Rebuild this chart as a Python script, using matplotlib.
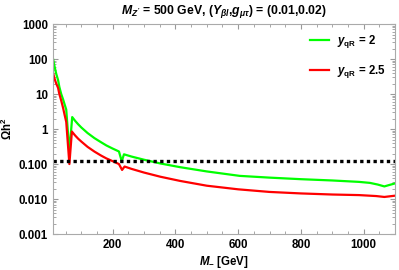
import matplotlib
matplotlib.use("Agg")
import matplotlib.pyplot as plt
from matplotlib.ticker import FixedLocator, NullFormatter, LogLocator

plt.rcParams['font.family'] = ['Liberation Sans', 'DejaVu Sans']
plt.rcParams['font.weight'] = 'bold'
plt.rcParams['mathtext.fontset'] = 'custom'
plt.rcParams['mathtext.it'] = 'Liberation Sans:bold:italic'
plt.rcParams['mathtext.rm'] = 'Liberation Sans:bold'
plt.rcParams['mathtext.bf'] = 'Liberation Sans:bold'

# Data
m_green = [10, 15, 20, 26, 30, 36, 42, 47, 52, 62, 71, 80, 90, 100, 120, 142, 163, 180, 200,
           220, 229, 236, 260, 300, 352, 415, 500, 605, 700, 800, 900, 985, 1020, 1045, 1066,
           1080, 1100]
omega_green = [100, 60, 38, 25, 16, 10, 7, 5, 3.6, 0.22, 2.2, 1.73, 1.37, 1.11, 0.77, 0.55,
               0.42, 0.34, 0.277, 0.229, 0.12, 0.19, 0.164, 0.133, 0.104, 0.0815, 0.0616,
               0.046, 0.041, 0.037, 0.034, 0.031, 0.029, 0.026, 0.023, 0.025, 0.028]
m_red = [10, 15, 20, 26, 30, 36, 42, 47, 52, 62, 70, 80, 90, 100, 120, 142, 163, 180, 200,
         220, 230, 238, 260, 300, 352, 415, 500, 600, 700, 800, 900, 985, 1040, 1066, 1100]
omega_red = [40, 27, 20, 15, 10, 6.5, 4, 2.5, 1.6, 0.1, 0.85, 0.66, 0.53, 0.44, 0.31, 0.227,
             0.175, 0.145, 0.121, 0.1, 0.068, 0.085, 0.0729, 0.0572, 0.0435, 0.033, 0.0241,
             0.019, 0.016, 0.0145, 0.0135, 0.013, 0.0122, 0.0115, 0.0125]
planck = 0.12
labels = [r"$y_{\mathrm{qR}}$ = 2", r"$y_{\mathrm{qR}}$ = 2.5"]
yticks = [1000, 100, 10, 1, 0.1, 0.01, 0.001]
ytick_labels = ["1000", "100", "10", "1", "0.100", "0.010", "0.001"]
xticks = [200, 400, 600, 800, 1000]

fig = plt.figure(figsize=(3.99, 2.70), dpi=100)
ax = fig.add_axes([0.133, 0.133, 0.857, 0.778])

ax.plot(m_green, omega_green, color='#00ff00', lw=1.6, label=labels[0])
ax.plot(m_red, omega_red, color='#ff0000', lw=1.6, label=labels[1])
ax.axhline(planck, color='black', lw=2.4, linestyle=(0, (1, 1)))

ax.set_yscale('log')
ax.set_xlim(10, 1100)
ax.set_ylim(0.001, 1000)
ax.set_yticks(yticks)
ax.set_yticklabels(ytick_labels)
ax.yaxis.set_minor_locator(LogLocator(base=10, subs=range(2, 10), numticks=20))
ax.yaxis.set_minor_formatter(NullFormatter())
ax.set_xticks(xticks)
ax.xaxis.set_minor_locator(FixedLocator(range(50, 1100, 50)))

for s in ax.spines.values():
    s.set_color('#aaaaaa')
    s.set_linewidth(0.8)
ax.tick_params(which='both', direction='in', color='#999999', labelsize=8.3, top=True, right=True)
ax.tick_params(which='major', length=3.5)
ax.tick_params(which='minor', length=2)
for lab in ax.get_xticklabels() + ax.get_yticklabels():
    lab.set_fontweight('bold')

ax.set_xlabel(r"$M_{-}$ [GeV]", fontsize=8.3, fontweight='bold', labelpad=2)
ax.set_ylabel(r"$\Omega$h$^2$", fontsize=8.3, fontweight='bold', labelpad=3)
ax.set_title(r"$M_{Z'}$ = 500 GeV, ($Y_{\beta l}$,$g_{\mu\tau}$) = (0.01,0.02)",
             fontsize=8.8, fontweight='bold', pad=7)

leg = ax.legend(loc='upper right', frameon=False, fontsize=8.3, handlelength=1.6,
                labelspacing=1.1, borderaxespad=0.4, handletextpad=0.7)

fig.savefig('out.png', dpi=100)
